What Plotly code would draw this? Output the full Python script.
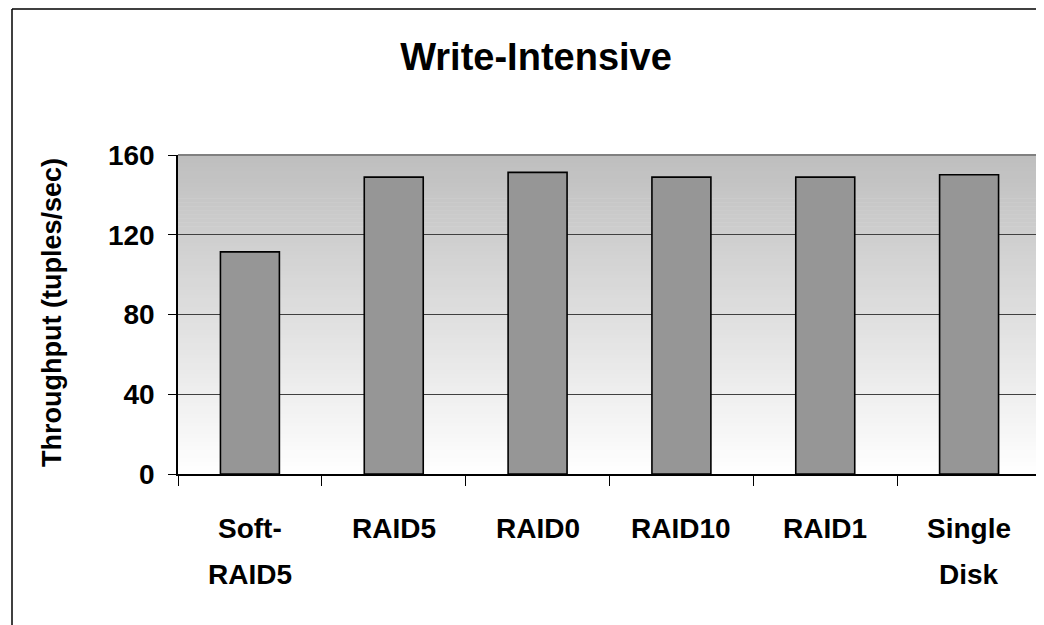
import plotly.graph_objects as go

categories = ["Soft-RAID5", "RAID5", "RAID0", "RAID10", "RAID1", "Single Disk"]
label_line1 = ["Soft-", "RAID5", "RAID0", "RAID10", "RAID1", "Single"]
label_line2 = ["RAID5", "", "", "", "", "Disk"]
throughput = [111.4, 148.9, 151.3, 148.9, 148.9, 150.1]
y_ticks = [0, 40, 80, 120, 160]

# page offset (browser body margin)
OFF = 8
W, H = 1044 - OFF, 625 - OFF
L, R, T, B = 178 - OFF, 3, 155 - OFF, 151
pw = W - L - R
ph = H - T - B

def px2paper_x(px):
    return (px - OFF - L) / pw

def px2paper_y(py):
    return 1 - (py - OFF - T) / ph

FONT = "Liberation Sans, Arial, sans-serif"

fig = go.Figure()
fig.add_trace(go.Bar(
    x=categories, y=throughput, width=0.41,
    marker=dict(color="#969696", line=dict(color="#000000", width=1.6)),
    showlegend=False,
))

shapes = []
# gradient background (white at bottom -> gray at top)
n = 80
for i in range(n):
    f0 = i / n
    f1 = (i + 1) / n
    t = (f0 + f1) / 2
    v = int(round(255 - (255 - 190) * t))
    shapes.append(dict(type="rect", xref="paper", yref="paper", x0=0, x1=1,
                       y0=f0, y1=min(1, f1 + 0.002), line=dict(width=0),
                       fillcolor=f"rgb({v},{v},{v})", layer="below"))
# plot border top/right gray
shapes.append(dict(type="line", xref="paper", yref="paper", x0=0, x1=1, y0=1, y1=1,
                   line=dict(color="#808080", width=2)))
shapes.append(dict(type="line", xref="paper", yref="paper", x0=1, x1=1, y0=0, y1=1,
                   line=dict(color="#808080", width=2)))
# outer chart frame (clipped at right/bottom)
shapes.append(dict(type="line", xref="paper", yref="paper",
                   x0=px2paper_x(12), x1=px2paper_x(12), y0=px2paper_y(9), y1=px2paper_y(640),
                   line=dict(color="#404040", width=2)))
shapes.append(dict(type="line", xref="paper", yref="paper",
                   x0=px2paper_x(12), x1=px2paper_x(1060), y0=px2paper_y(9), y1=px2paper_y(9),
                   line=dict(color="#000000", width=1.5)))

annotations = []
for c, l1, l2 in zip(categories, label_line1, label_line2):
    annotations.append(dict(x=c, xref="x", y=px2paper_y(528), yref="paper", text=f"<b>{l1}</b>",
                            showarrow=False, yanchor="middle",
                            font=dict(family=FONT, size=28, color="#000000")))
    if l2:
        annotations.append(dict(x=c, xref="x", y=px2paper_y(574), yref="paper", text=f"<b>{l2}</b>",
                                showarrow=False, yanchor="middle",
                                font=dict(family=FONT, size=28, color="#000000")))
annotations.append(dict(x=px2paper_x(52), xref="paper", y=px2paper_y(313), yref="paper",
                        text="<b>Throughput (tuples/sec)</b>", textangle=-90, showarrow=False,
                        xanchor="center", yanchor="middle",
                        font=dict(family=FONT, size=27, color="#000000")))

fig.update_layout(
    width=W, height=H,
    margin=dict(l=L, r=R, t=T, b=B, pad=0),
    paper_bgcolor="#FFFFFF", plot_bgcolor="rgba(0,0,0,0)",
    title=dict(text="<b>Write-Intensive</b>", x=(536 - OFF) / W, xanchor="center",
               y=1 - (57 - OFF) / H, yanchor="middle", xref="container", yref="container",
               font=dict(family=FONT, size=38, color="#000000")),
    font=dict(family=FONT, color="#000000"),
    shapes=shapes,
    annotations=annotations,
)
fig.update_xaxes(
    type="category", showgrid=False, showticklabels=False,
    ticks="outside", ticklen=10, tickcolor="#000000", tickwidth=1,
    tickson="boundaries",
    showline=True, linecolor="#000000", linewidth=1.5,
    range=[-0.5, 5.5],
)
fig.update_yaxes(
    range=[0, 160], tickvals=y_ticks, ticktext=[f"<b>{v}</b>" for v in y_ticks],
    tickfont=dict(family=FONT, size=28, color="#000000"),
    ticks="outside", ticklen=8, tickcolor="#000000", tickwidth=1,
    ticklabelstandoff=8,
    showgrid=True, gridcolor="#404040", gridwidth=1,
    showline=True, linecolor="#000000", linewidth=1.5,
    zeroline=False,
)

fig.write_html("out.html")
